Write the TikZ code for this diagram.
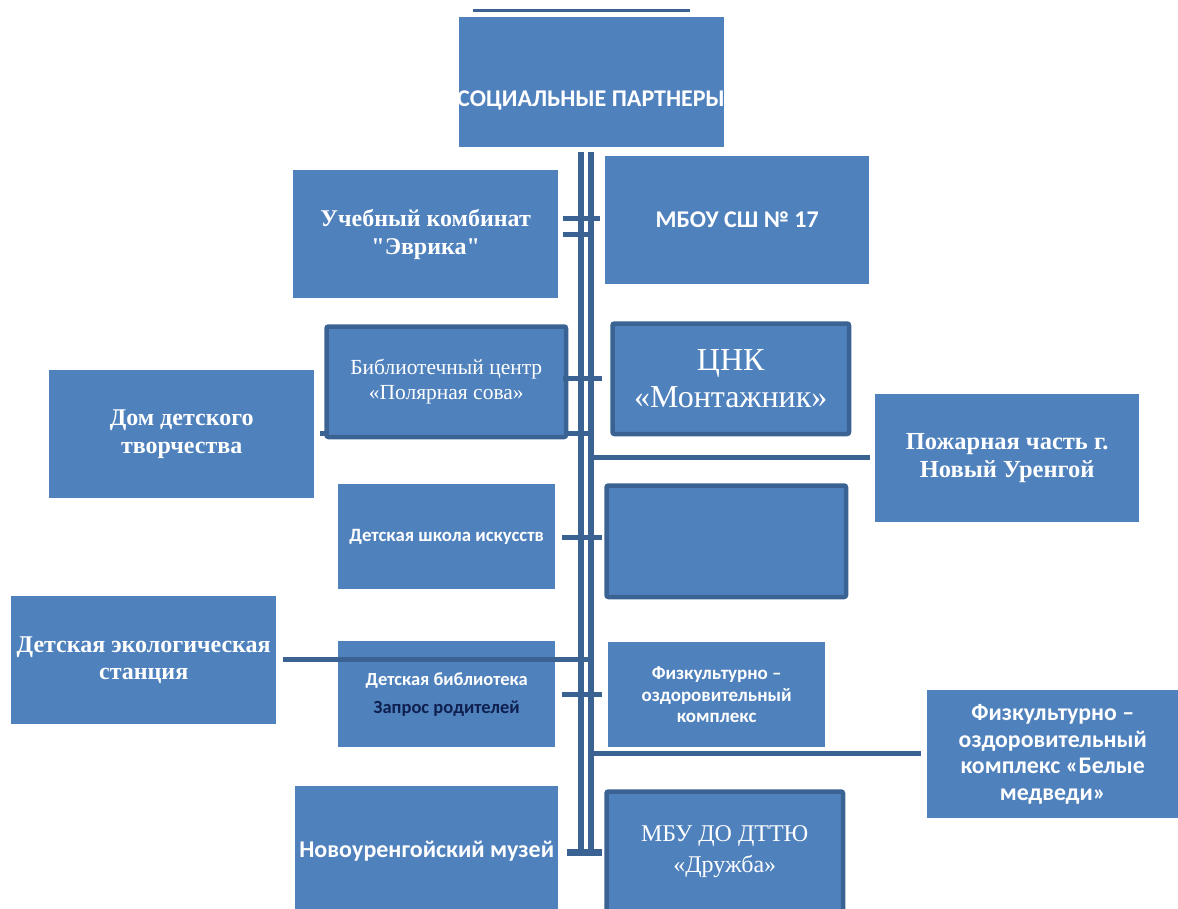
\documentclass[tikz,border=0pt]{standalone}
\usepackage{fontspec}
\setmainfont{Liberation Serif}[Ligatures=TeXOff]
\newfontfamily\carl{Carlito}
\definecolor{boxblue}{HTML}{4F81BD}
\definecolor{edgeblue}{HTML}{3A6393}
\definecolor{navy}{HTML}{0F1F4F}
\begin{document}
\begin{tikzpicture}[x=1pt,y=-1pt,
  box/.style={fill=boxblue, draw=none, inner sep=0pt, anchor=north west, align=center, text=white},
  bbox/.style={box, draw=edgeblue, line width=4.5pt, rounded corners=2pt},
  conn/.style={draw=edgeblue, line width=5pt},
  spine/.style={draw=edgeblue, line width=6pt},
  txt/.style={inner sep=0pt, text=white, align=center},
  sbold/.style={font=\bfseries\fontsize{24}{28}\selectfont},
]
\useasboundingbox (0,0) rectangle (1178,908);
% line hidden under library box
\coordinate (c433a) at (320,433);
\coordinate (c433b) at (588,433);
\draw[conn] (c433a) -- (c433b);
% boxes
\node[box, minimum width=265pt, minimum height=130pt] (title) at (459,17) {};
\begin{scope}
\clip (459,17) rectangle (724,147);
\node[txt, font=\carl\bfseries\fontsize{24}{28}\selectfont] (titletext) at (591,100) {СОЦИАЛЬНЫЕ ПАРТНЕРЫ};
\end{scope}
\node[box, sbold, minimum width=265pt, minimum height=128pt] (evr) at (293,170) {Учебный комбинат\\"Эврика"};
\node[box, font=\carl\bfseries\fontsize{24}{28}\selectfont, minimum width=264pt, minimum height=128pt] (mbou) at (605,156) {МБОУ СШ № 17};
\node[bbox, font=\fontsize{21.5}{25}\selectfont, minimum width=239.5pt, minimum height=110.5pt] (bib) at (324.25,324.25) {Библиотечный центр\\«Полярная сова»};
\node[bbox, font=\fontsize{32}{37}\selectfont, minimum width=236.5pt, minimum height=110.5pt] (cnk) at (610.25,321.25) {ЦНК\\«Монтажник»};
\node[box, sbold, minimum width=265pt, minimum height=128pt] (ddt) at (49,370) {Дом детского\\творчества};
\node[box, font=\bfseries\fontsize{24.5}{28}\selectfont, minimum width=264pt, minimum height=128pt] (fire) at (875,394) {Пожарная часть г.\\Новый Уренгой};
\node[box, font=\carl\bfseries\fontsize{18.8}{22}\selectfont, minimum width=217pt, minimum height=105pt] (dshi) at (338,484) {Детская школа искусств};
\node[bbox, minimum width=239.5pt, minimum height=111.5pt] (blank) at (604.25,483.25) {};
\node[box, font=\bfseries\fontsize{24}{27}\selectfont, minimum width=265pt, minimum height=128pt] (eco) at (11,596) {Детская экологическая\\станция};
\node[box, font=\carl\bfseries\fontsize{18.5}{28}\selectfont, minimum width=217pt, minimum height=106pt] (dbib) at (338,641) {Детская библиотека\\{\color{navy}Запрос родителей}};
\node[box, font=\carl\bfseries\fontsize{19}{21.5}\selectfont, minimum width=217pt, minimum height=105pt] (fok) at (608,642) {Физкультурно –\\оздоровительный\\комплекс};
\node[box, font=\carl\bfseries\fontsize{23.8}{26.5}\selectfont, minimum width=251pt, minimum height=128pt] (bear) at (927,690) {Физкультурно –\\оздоровительный\\комплекс «Белые\\медведи»};
\node[box, font=\carl\bfseries\fontsize{24}{28}\selectfont, minimum width=263pt, minimum height=130pt] (mus) at (295,786) {Новоуренгойский музей};
\node[bbox, font=\fontsize{24}{31}\selectfont, minimum width=236.5pt, minimum height=120.5pt] (dru) at (604.25,789.25) {МБУ ДО ДТТЮ\\«Дружба»};
% top line
\coordinate (topa) at (473,10);
\coordinate (topb) at (690,10);
\draw[draw=edgeblue, line width=3pt] (topa) -- (topb);
% spine
\coordinate (sLt) at (581,152);
\coordinate (sLb) at (581,850);
\coordinate (sRt) at (591,152);
\coordinate (sRb) at (591,850);
\draw[spine] (sLt) -- (sLb);
\draw[spine] (sRt) -- (sRb);
\coordinate (bota) at (567,852);
\coordinate (botb) at (602,852);
\draw[conn, line width=7pt] (bota) -- (botb);
% stubs
\coordinate (c218a) at (563,218); \coordinate (c218b) at (600,218);
\draw[conn] (c218a) -- (c218b);
\coordinate (c234a) at (563,234); \coordinate (c234b) at (588,234);
\draw[conn] (c234a) -- (c234b);
\coordinate (c378a) at (563,378); \coordinate (c378b) at (602,378);
\draw[conn] (c378a) -- (c378b);
\coordinate (c457a) at (591,457); \coordinate (c457b) at (870,457);
\draw[conn] (c457a) -- (c457b);
\coordinate (c537a) at (562,537); \coordinate (c537b) at (602,537);
\draw[conn] (c537a) -- (c537b);
\coordinate (c659a) at (283,659); \coordinate (c659b) at (592,659);
\draw[conn] (c659a) -- (c659b);
\coordinate (c694a) at (562,694); \coordinate (c694b) at (602,694);
\draw[conn] (c694a) -- (c694b);
\coordinate (c753a) at (591,753); \coordinate (c753b) at (921,753);
\draw[conn] (c753a) -- (c753b);
\end{tikzpicture}
\end{document}
